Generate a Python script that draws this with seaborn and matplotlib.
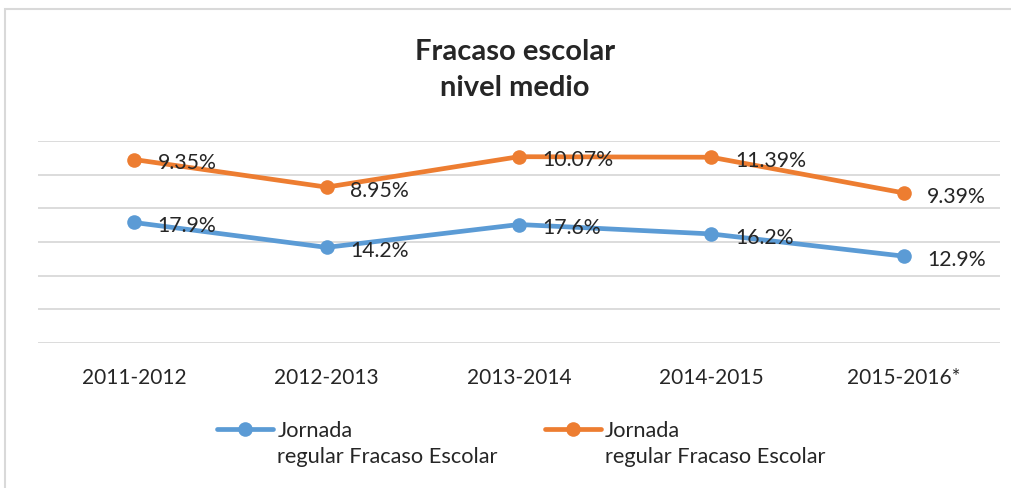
import numpy as np
import pandas as pd
import matplotlib
matplotlib.use('Agg')
import matplotlib.pyplot as plt
import seaborn as sb
from matplotlib.patches import Rectangle
from matplotlib.legend_handler import HandlerLine2D

years = ['2011-2012', '2012-2013', '2013-2014', '2014-2015', '2015-2016*']
blue_vals = [17.9, 14.2, 17.6, 16.2, 12.9]
orange_vals = [9.35, 8.95, 10.07, 11.39, 9.39]
blue_labels = ['17.9%', '14.2%', '17.6%', '16.2%', '12.9%']
orange_labels = ['9.35%', '8.95%', '10.07%', '11.39%', '9.39%']
series_name = 'Jornada\nregular Fracaso Escolar'

sb.set_style('white')
plt.rcParams['font.family'] = ['Lato', 'DejaVu Sans']


# legend marker sits on the first text line, like Excel
class TopHandler(HandlerLine2D):
    def create_artists(self, legend, orig_handle, xdescent, ydescent, width, height, fontsize, trans):
        return super().create_artists(legend, orig_handle, xdescent, ydescent - 20,
                                      width, height, fontsize, trans)


# stacked line chart (Excel style): orange is drawn on top of blue
stack_top = np.array(blue_vals) + np.array(orange_vals)
df = pd.DataFrame({'pos': range(len(years)), 'blue': blue_vals, 'top': stack_top})

fig = plt.figure(figsize=(10.12, 4.89), dpi=100)
fig.patches.append(Rectangle((0.005, -0.01), 1.2, 0.99, transform=fig.transFigure,
                             fill=False, edgecolor='#D9D9D9', linewidth=1.5))
ax = fig.add_axes([0.0375, 0.2965, 0.9505, 0.4131])

blue = '#5B9BD5'
orange = '#ED7D31'
sb.lineplot(data=df, x='pos', y='blue', ax=ax, color=blue, linewidth=3.4,
            marker='o', markersize=10.5, markeredgewidth=0, label=series_name)
sb.lineplot(data=df, x='pos', y='top', ax=ax, color=orange, linewidth=3.4,
            marker='o', markersize=10.5, markeredgewidth=0, label=series_name)

for i in range(len(years)):
    ax.annotate(blue_labels[i], (i, blue_vals[i]), xytext=(17, -2), textcoords='offset points',
                ha='left', va='center', fontsize=15.3)
    ax.annotate(orange_labels[i], (i, stack_top[i]), xytext=(17, -2), textcoords='offset points',
                ha='left', va='center', fontsize=15.3)

ax.set_xlim(-0.5, len(years) - 0.5)
ax.set_ylim(0, 30)
ax.set_yticks(np.arange(0, 31, 5))
ax.yaxis.grid(True, color='#D9D9D9', linewidth=1.3)
ax.set_yticklabels([])
ax.tick_params(axis='y', length=0)
ax.set_xticks(range(len(years)))
ax.set_xticklabels(years, fontsize=15)
ax.tick_params(axis='x', length=0, pad=17)
ax.set_xlabel('')
ax.set_ylabel('')
for s in ax.spines.values():
    s.set_visible(False)

fig.text(0.509, 0.894, 'Fracaso escolar', ha='center', va='center',
         fontsize=21, fontweight='bold')
fig.text(0.509, 0.82, 'nivel medio', ha='center', va='center',
         fontsize=21, fontweight='bold')

h, l = ax.get_legend_handles_labels()
leg = ax.legend(h, l, loc='center', bbox_to_anchor=(0.515, 0.092), bbox_transform=fig.transFigure,
                ncol=2, frameon=False, fontsize=15.7, handlelength=2.57, handletextpad=0.18,
                columnspacing=2.15, borderaxespad=0,
                handler_map={h[0]: TopHandler(), h[1]: TopHandler()})
for t in leg.get_texts():
    t.set_linespacing(1.4)

fig.savefig('out.png', dpi=100)
